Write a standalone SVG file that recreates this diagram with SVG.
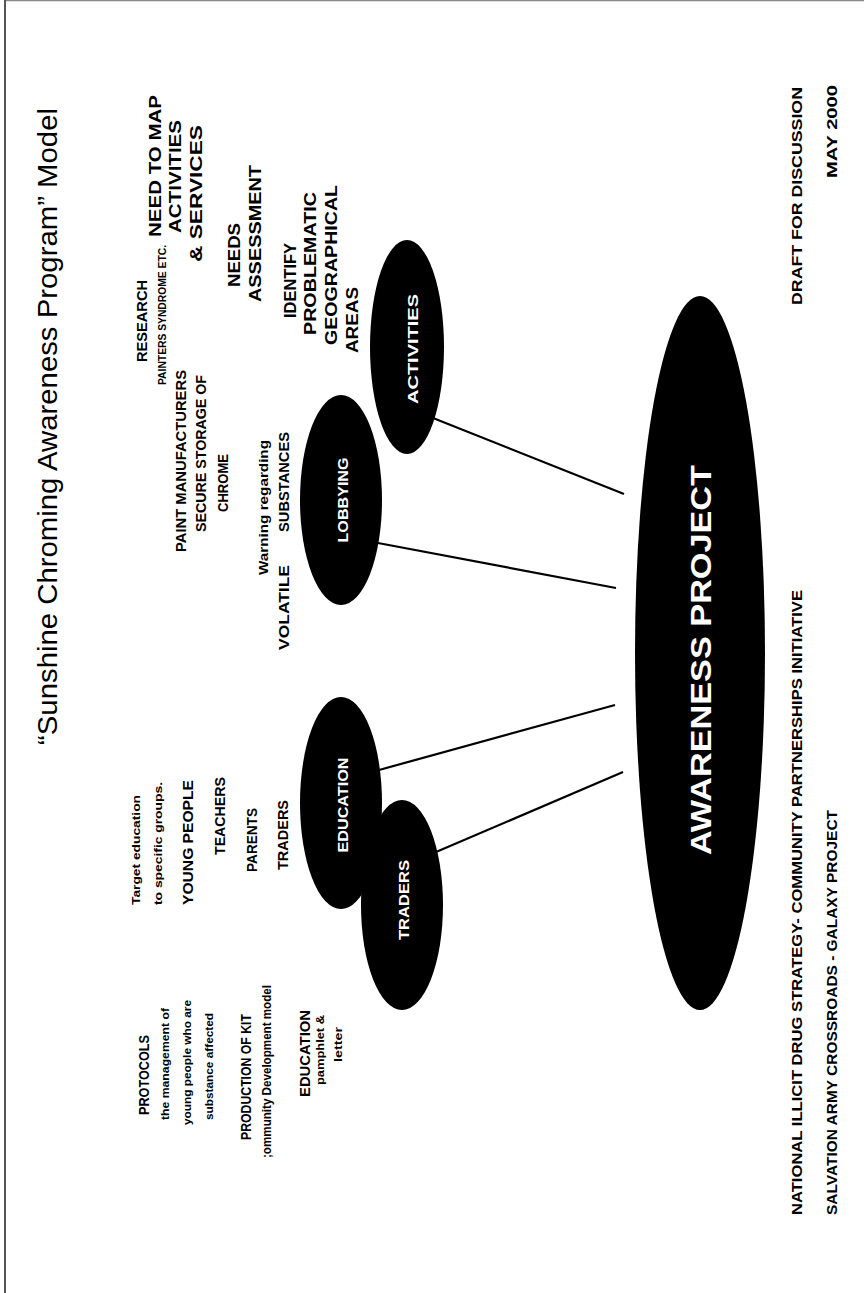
<svg xmlns="http://www.w3.org/2000/svg" width="864" height="1293" viewBox="0 0 864 1293">
<style>
text{font-family:"Liberation Sans",Arial,sans-serif;font-weight:bold;fill:#000}
.reg{font-weight:normal}
.w{fill:#fff}
.s10{font-size:10.5px}
.s11{font-size:11px}
.s13{font-size:13px}
.s14{font-size:14px}
.s15{font-size:15px}
.s16{font-size:16px}
.node{fill:#000}
.conn line{stroke:#000;stroke-width:2.2}
</style>
<rect width="864" height="1293" fill="#fff"/>
<line x1="4" y1="0.5" x2="864" y2="0.5" stroke="#888" stroke-width="1.5"/>
<line x1="5" y1="0" x2="5" y2="1293" stroke="#555" stroke-width="2"/>

<g id="title">
<text class="reg" font-size="28" transform="translate(57,745) rotate(-90)" textLength="637" lengthAdjust="spacingAndGlyphs">“Sunshine Chroming Awareness Program” Model</text>
</g>

<g id="connectors" class="conn">
<line x1="433" y1="418" x2="624" y2="494"/>
<line x1="378" y1="543" x2="616" y2="588"/>
<line x1="379" y1="770" x2="615" y2="705"/>
<line x1="436" y1="852" x2="623" y2="772"/>
</g>

<g id="awareness">
<ellipse class="node" cx="700" cy="653" rx="65" ry="357"/>
<text class="w" font-size="30" text-anchor="middle" transform="translate(711,660) rotate(-90)" textLength="390" lengthAdjust="spacingAndGlyphs">AWARENESS PROJECT</text>
</g>

<g id="activities">
<ellipse class="node" cx="407" cy="347" rx="37" ry="107"/>
<text class="w s15" text-anchor="middle" transform="translate(418,349) rotate(-90)" textLength="110" lengthAdjust="spacingAndGlyphs">ACTIVITIES</text>
</g>

<g id="lobbying">
<ellipse class="node" cx="341" cy="500" rx="41" ry="105"/>
<text class="w s15" text-anchor="middle" transform="translate(348,500) rotate(-90)" textLength="85" lengthAdjust="spacingAndGlyphs">LOBBYING</text>
</g>

<g id="education">
<ellipse class="node" cx="341" cy="803" rx="41" ry="106"/>
<text class="w s15" text-anchor="middle" transform="translate(348,805) rotate(-90)" textLength="95" lengthAdjust="spacingAndGlyphs">EDUCATION</text>
</g>

<g id="traders">
<ellipse class="node" cx="402" cy="905" rx="41" ry="105"/>
<text class="w s15" text-anchor="middle" transform="translate(409,900) rotate(-90)" textLength="80" lengthAdjust="spacingAndGlyphs">TRADERS</text>
</g>

<g id="activities-notes">
<text class="s16" transform="translate(161,237) rotate(-90)" textLength="142" lengthAdjust="spacingAndGlyphs">NEED TO MAP</text>
<text class="s16" transform="translate(181,233) rotate(-90)" textLength="113" lengthAdjust="spacingAndGlyphs">ACTIVITIES</text>
<text class="s16" transform="translate(202,262) rotate(-90)" textLength="137" lengthAdjust="spacingAndGlyphs">&amp; SERVICES</text>
<text class="s16" transform="translate(240,287) rotate(-90)" textLength="64" lengthAdjust="spacingAndGlyphs">NEEDS</text>
<text class="s16" transform="translate(261,302) rotate(-90)" textLength="137" lengthAdjust="spacingAndGlyphs">ASSESSMENT</text>
<text class="s16" transform="translate(296,318) rotate(-90)" textLength="75" lengthAdjust="spacingAndGlyphs">IDENTIFY</text>
<text class="s16" transform="translate(316,335) rotate(-90)" textLength="143" lengthAdjust="spacingAndGlyphs">PROBLEMATIC</text>
<text class="s16" transform="translate(337,345) rotate(-90)" textLength="160" lengthAdjust="spacingAndGlyphs">GEOGRAPHICAL</text>
<text class="s16" transform="translate(358,353) rotate(-90)" textLength="66" lengthAdjust="spacingAndGlyphs">AREAS</text>
</g>

<g id="lobbying-notes">
<text class="s15" transform="translate(147,362) rotate(-90)" textLength="82" lengthAdjust="spacingAndGlyphs">RESEARCH</text>
<text class="s10" transform="translate(166,385) rotate(-90)" textLength="140" lengthAdjust="spacingAndGlyphs">PAINTERS SYNDROME ETC.</text>
<text class="s14" transform="translate(186,552) rotate(-90)" textLength="182" lengthAdjust="spacingAndGlyphs">PAINT MANUFACTURERS</text>
<text class="s14" transform="translate(206,532) rotate(-90)" textLength="157" lengthAdjust="spacingAndGlyphs">SECURE STORAGE OF</text>
<text class="s14" transform="translate(228,512) rotate(-90)" textLength="58" lengthAdjust="spacingAndGlyphs">CHROME</text>
<text class="s13" transform="translate(268,575) rotate(-90)" textLength="135" lengthAdjust="spacingAndGlyphs">Warning regarding</text>
<text class="s14" transform="translate(289,650) rotate(-90)"><tspan x="0" textLength="85" lengthAdjust="spacingAndGlyphs">VOLATILE</tspan><tspan x="118" textLength="100" lengthAdjust="spacingAndGlyphs">SUBSTANCES</tspan></text>
</g>

<g id="education-notes">
<text class="s11" transform="translate(140,905) rotate(-90)" textLength="110" lengthAdjust="spacingAndGlyphs">Target education</text>
<text class="s11" transform="translate(162,905) rotate(-90)" textLength="123" lengthAdjust="spacingAndGlyphs">to specific groups.</text>
<text class="s14" transform="translate(193,905) rotate(-90)" textLength="125" lengthAdjust="spacingAndGlyphs">YOUNG PEOPLE</text>
<text class="s14" transform="translate(225,855) rotate(-90)" textLength="78" lengthAdjust="spacingAndGlyphs">TEACHERS</text>
<text class="s14" transform="translate(257,872) rotate(-90)" textLength="64" lengthAdjust="spacingAndGlyphs">PARENTS</text>
<text class="s14" transform="translate(288,870) rotate(-90)" textLength="70" lengthAdjust="spacingAndGlyphs">TRADERS</text>
</g>

<g id="traders-notes">
<text class="s14" transform="translate(149,1115) rotate(-90)" textLength="80" lengthAdjust="spacingAndGlyphs">PROTOCOLS</text>
<text class="s11" transform="translate(169,1120) rotate(-90)" textLength="112" lengthAdjust="spacingAndGlyphs">the management of</text>
<text class="s11" transform="translate(191,1125) rotate(-90)" textLength="125" lengthAdjust="spacingAndGlyphs">young people who are</text>
<text class="s11" transform="translate(213,1120) rotate(-90)" textLength="107" lengthAdjust="spacingAndGlyphs">substance affected</text>
<text class="s14" transform="translate(251,1140) rotate(-90)" textLength="126" lengthAdjust="spacingAndGlyphs">PRODUCTION OF KIT</text>
<text class="s13" transform="translate(271,1158) rotate(-90)" textLength="173" lengthAdjust="spacingAndGlyphs">;ommunity Development model</text>
<text class="s15" transform="translate(310,1097) rotate(-90)" textLength="87" lengthAdjust="spacingAndGlyphs">EDUCATION</text>
<text class="s11" transform="translate(324,1085) rotate(-90)" textLength="70" lengthAdjust="spacingAndGlyphs">pamphlet &amp;</text>
<text class="s11" transform="translate(342,1062) rotate(-90)" textLength="35" lengthAdjust="spacingAndGlyphs">letter</text>
</g>

<g id="footer">
<text class="s14" transform="translate(802,1215) rotate(-90)" textLength="625" lengthAdjust="spacingAndGlyphs">NATIONAL ILLICIT DRUG STRATEGY- COMMUNITY PARTNERSHIPS INITIATIVE</text>
<text class="s14" transform="translate(837,1215) rotate(-90)" textLength="405" lengthAdjust="spacingAndGlyphs">SALVATION ARMY CROSSROADS - GALAXY PROJECT</text>
<text class="s14" transform="translate(802,305) rotate(-90)" textLength="218" lengthAdjust="spacingAndGlyphs">DRAFT FOR DISCUSSION</text>
<text class="s14" transform="translate(837,178) rotate(-90)" textLength="93" lengthAdjust="spacingAndGlyphs">MAY 2000</text>
</g>
</svg>
